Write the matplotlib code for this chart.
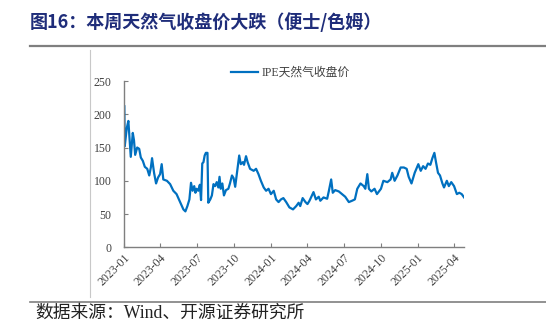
import numpy as np
import pandas as pd
import matplotlib
matplotlib.use('Agg')
import matplotlib.pyplot as plt
import matplotlib.dates as mdates
from matplotlib.lines import Line2D

plt.rcParams['font.family'] = ['Liberation Serif', 'Noto Sans CJK SC']

# IPE天然气收盘价（便士/色姆）
dates = ['2023-01-02', '2023-01-03', '2023-01-08', '2023-01-12', '2023-01-18', '2023-01-23',
         '2023-01-26', '2023-01-29', '2023-02-03', '2023-02-08', '2023-02-12', '2023-02-17',
         '2023-02-22', '2023-02-28', '2023-03-05', '2023-03-09', '2023-03-12', '2023-03-17',
         '2023-03-22', '2023-03-27', '2023-04-01', '2023-04-05', '2023-04-09', '2023-04-18',
         '2023-04-26', '2023-05-04', '2023-05-12', '2023-05-21', '2023-05-29', '2023-06-03',
         '2023-06-08', '2023-06-13', '2023-06-17', '2023-06-21', '2023-06-25', '2023-06-28',
         '2023-07-01', '2023-07-05', '2023-07-09', '2023-07-12', '2023-07-15', '2023-07-18',
         '2023-07-21', '2023-07-24', '2023-07-28', '2023-07-30', '2023-08-04', '2023-08-08',
         '2023-08-12', '2023-08-16', '2023-08-20', '2023-08-24', '2023-08-27', '2023-08-30',
         '2023-09-03', '2023-09-07', '2023-09-12', '2023-09-18', '2023-09-22', '2023-09-27',
         '2023-10-01', '2023-10-05', '2023-10-11', '2023-10-15', '2023-10-19', '2023-10-24',
         '2023-10-27', '2023-11-01', '2023-11-05', '2023-11-11', '2023-11-20', '2023-11-26',
         '2023-12-02', '2023-12-08', '2023-12-15', '2023-12-21', '2023-12-27', '2024-01-02',
         '2024-01-09', '2024-01-15', '2024-01-21', '2024-01-27', '2024-02-02', '2024-02-09',
         '2024-02-17', '2024-02-26', '2024-03-05', '2024-03-11', '2024-03-15', '2024-03-21',
         '2024-03-28', '2024-04-02', '2024-04-07', '2024-04-17', '2024-04-23', '2024-04-30',
         '2024-05-04', '2024-05-12', '2024-05-21', '2024-05-25', '2024-05-31', '2024-06-04',
         '2024-06-10', '2024-06-19', '2024-06-27', '2024-07-05', '2024-07-14', '2024-07-22',
         '2024-07-29', '2024-08-04', '2024-08-12', '2024-08-20', '2024-08-24', '2024-08-29',
         '2024-09-02', '2024-09-08', '2024-09-16', '2024-09-22', '2024-10-02', '2024-10-08',
         '2024-10-18', '2024-10-26', '2024-10-30', '2024-11-05', '2024-11-12', '2024-11-20',
         '2024-11-28', '2024-12-05', '2024-12-10', '2024-12-17', '2024-12-25', '2025-01-03',
         '2025-01-09', '2025-01-15', '2025-01-21', '2025-01-27', '2025-02-02', '2025-02-07',
         '2025-02-12', '2025-02-16', '2025-02-21', '2025-02-26', '2025-03-04', '2025-03-08',
         '2025-03-15', '2025-03-20', '2025-03-26', '2025-04-02', '2025-04-09', '2025-04-15',
         '2025-04-21', '2025-04-27']
values = [212, 152, 179, 190, 136, 172,
          161, 139, 150, 148, 135, 130,
          121, 118, 108, 120, 134, 112,
          96, 105, 110, 125, 102, 100,
          95, 85, 80, 68, 57, 54,
          62, 72, 97, 85, 92, 82,
          88, 85, 94, 71, 126, 128,
          138, 142, 142, 67, 72, 78,
          95, 92, 98, 90, 106, 88,
          96, 78, 86, 88, 96, 108,
          104, 91, 120, 138, 125, 128,
          124, 137, 128, 118, 115, 118,
          110, 100, 90, 85, 88, 80,
          85, 72, 68, 72, 74, 68,
          60, 57, 62, 67, 62, 74,
          68, 65, 70, 83, 72, 76,
          70, 75, 73, 84, 102, 82,
          86, 84, 80, 76, 68, 70,
          72, 88, 96, 92, 88, 110,
          88, 84, 88, 80, 88, 100,
          98, 102, 112, 100, 108, 120,
          120, 118, 106, 96, 112, 125,
          115, 122, 118, 126, 124, 134,
          142, 128, 112, 108, 96, 90,
          100, 92, 98, 92, 80, 82,
          80, 75]
tick_dates = ['2023-01', '2023-04', '2023-07', '2023-10', '2024-01',
              '2024-04', '2024-07', '2024-10', '2025-01', '2025-04']

x = pd.to_datetime(dates)
ticks = pd.to_datetime([t + '-01' for t in tick_dates])

fig = plt.figure(figsize=(5.46, 3.28), dpi=100)
ax = fig.add_axes([0.227, 0.246, 0.623, 0.507])

ax.plot(x, values, color='#0070C0', lw=1.6, label='IPE天然气收盘价')
ax.set_ylim(0, 250)
ax.set_yticks([0, 50, 100, 150, 200, 250])
ax.set_xlim(pd.Timestamp('2023-01-01'), x[-1])
ax.set_xticks(ticks)
ax.set_xticklabels(tick_dates, rotation=45, ha='right', va='top', rotation_mode='anchor')

for s in ['top', 'right']:
    ax.spines[s].set_visible(False)
for s in ['left', 'bottom']:
    ax.spines[s].set_color('#7f7f7f')
    ax.spines[s].set_linewidth(1.0)
ax.tick_params(axis='both', direction='in', color='#7f7f7f', length=3,
               labelsize=8.5, labelcolor='#404040')
ax.tick_params(axis='y', pad=9)
ax.tick_params(axis='x', pad=3)

ax.legend(loc='center', bbox_to_anchor=(0.49, 1.05), frameon=False,
          fontsize=8.5, handlelength=2.3, handletextpad=0.3,
          labelcolor='#404040')

# 标题与装饰线
fig.text(0.055, 0.933, '图16：本周天然气收盘价大跌（便士/色姆）', fontsize=13,
         fontweight='bold', color='#1F2D7A', va='center',
         family=['Noto Sans CJK SC'])
fig.add_artist(Line2D([0.055, 1.0], [0.861, 0.861], color='#7f7f7f', lw=1.6))
fig.add_artist(Line2D([0.165, 0.165], [0.095, 0.848], color='#c8c8c8', lw=0.8))
fig.add_artist(Line2D([0.055, 1.0], [0.080, 0.080], color='#7f7f7f', lw=1.2))
fig.text(0.064, 0.045, '数据来源：Wind、开源证券研究所', fontsize=12.8,
         color='#222222', va='center')

fig.savefig('out.png', dpi=100)
